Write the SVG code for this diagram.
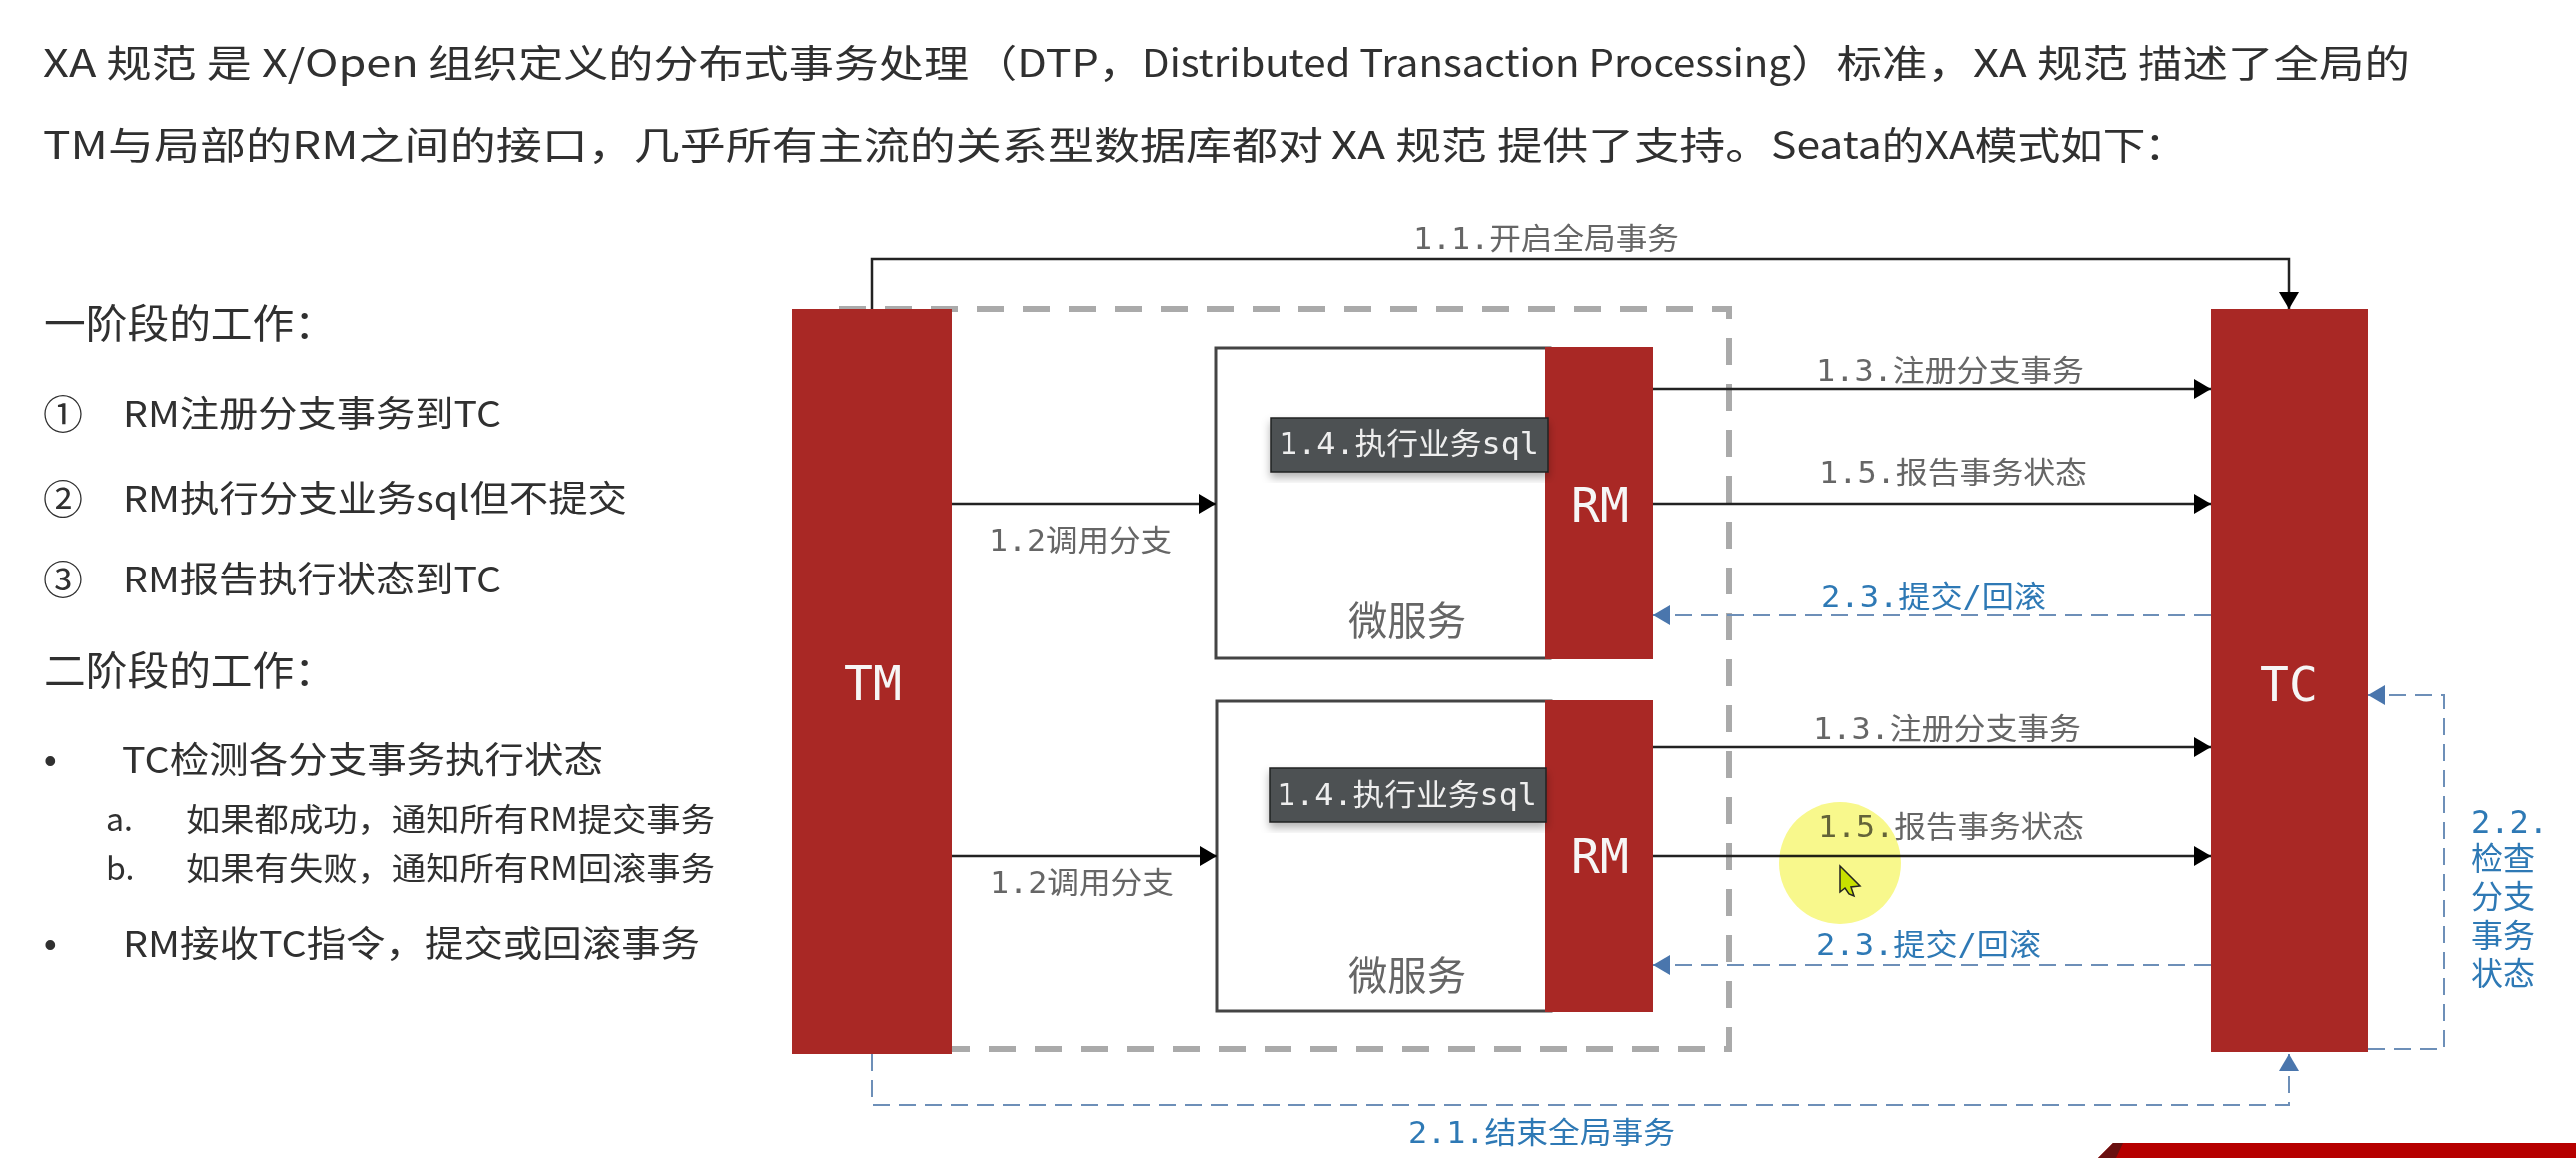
<svg xmlns="http://www.w3.org/2000/svg" width="2579" height="1159" viewBox="0 0 2579 1159">
<style>
.t{font-family:"Noto Sans CJK SC","Noto Sans",sans-serif;fill:#303030}
.m{font-family:"DejaVu Sans Mono","Noto Sans CJK SC",monospace;font-size:30px;fill:#666;dominant-baseline:central}
.b{fill:#2e79b5}
.v{font-size:32px}
.w{fill:#f6f6f6;font-size:48px}
.box{fill:#fff;stroke:#444;stroke-width:3}
.red{fill:#a92825}
.k{fill:none;stroke:#222;stroke-width:2.5}
.d{fill:none;stroke:#6d8fb8;stroke-width:2;stroke-dasharray:17 9}
.dot{font-family:"Liberation Sans",sans-serif;fill:#303030;font-size:36px}
</style>
<defs>
<marker id="ak" markerUnits="userSpaceOnUse" markerWidth="18" markerHeight="20" refX="17" refY="10" orient="auto"><path d="M0 0L17 10L0 20z" fill="#000"/></marker>
<marker id="ab" markerUnits="userSpaceOnUse" markerWidth="18" markerHeight="20" refX="17" refY="10" orient="auto"><path d="M0 0L17 10L0 20z" fill="#4a76ad"/></marker>
<filter id="sh" x="-5%" y="-10%" width="110%" height="130%"><feDropShadow dx="0" dy="5" stdDeviation="4" flood-color="#000" flood-opacity=".3"/></filter>
</defs>
<rect width="2579" height="1159" fill="#fff"/>
<g id="intro">
<text class="t" x="43" y="77" font-size="38" textLength="927" lengthAdjust="spacingAndGlyphs">XA 规范 是 X/Open 组织定义的分布式事务处理</text>
<text class="t" x="975" y="77" font-size="38" textLength="168" lengthAdjust="spacingAndGlyphs">（DTP，</text>
<text class="t" x="1143" y="77" font-size="38" textLength="650" lengthAdjust="spacingAndGlyphs">Distributed Transaction Processing</text>
<text class="t" x="1793" y="77" font-size="38" textLength="620" lengthAdjust="spacingAndGlyphs">）标准，XA 规范 描述了全局的</text>
<text class="t" x="43" y="159" font-size="38" textLength="1282" lengthAdjust="spacingAndGlyphs">TM与局部的RM之间的接口，几乎所有主流的关系型数据库都对</text>
<text class="t" x="1333" y="159" font-size="38" textLength="440" lengthAdjust="spacingAndGlyphs">XA 规范 提供了支持。</text>
<text class="t" x="1773" y="159" font-size="38" textLength="417" lengthAdjust="spacingAndGlyphs">Seata的XA模式如下：</text>
</g>
<g id="phase-list">
<text class="t" x="44" y="338" font-size="40" textLength="292" lengthAdjust="spacingAndGlyphs">一阶段的工作：</text>
<text class="t" x="43" y="429" font-size="40">①</text>
<text class="t" x="123" y="427" font-size="36" textLength="379" lengthAdjust="spacingAndGlyphs">RM注册分支事务到TC</text>
<text class="t" x="43" y="514" font-size="40">②</text>
<text class="t" x="123" y="512" font-size="36" textLength="505" lengthAdjust="spacingAndGlyphs">RM执行分支业务sql但不提交</text>
<text class="t" x="43" y="595" font-size="40">③</text>
<text class="t" x="123" y="593" font-size="36" textLength="379" lengthAdjust="spacingAndGlyphs">RM报告执行状态到TC</text>
<text class="t" x="44" y="686" font-size="40" textLength="292" lengthAdjust="spacingAndGlyphs">二阶段的工作：</text>
<text class="dot" x="44" y="774">•</text>
<text class="t" x="122" y="774" font-size="36" textLength="482" lengthAdjust="spacingAndGlyphs">TC检测各分支事务执行状态</text>
<text class="t" x="106" y="832" font-size="32">a.</text>
<text class="t" x="186" y="832" font-size="32" textLength="530" lengthAdjust="spacingAndGlyphs">如果都成功，通知所有RM提交事务</text>
<text class="t" x="106" y="881" font-size="32">b.</text>
<text class="t" x="186" y="881" font-size="32" textLength="530" lengthAdjust="spacingAndGlyphs">如果有失败，通知所有RM回滚事务</text>
<text class="dot" x="44" y="958">•</text>
<text class="t" x="123" y="958" font-size="36" textLength="578" lengthAdjust="spacingAndGlyphs">RM接收TC指令，提交或回滚事务</text>
</g>
<path id="scope" d="M840 309H1731V1050H953" fill="none" stroke="#aaa" stroke-width="6" stroke-dasharray="27 19"/>
<g id="service-1"><rect class="box" x="1217" y="348" width="335" height="311"/><text class="m" x="1409" y="622" text-anchor="middle" style="font-size:40px" textLength="118" lengthAdjust="spacingAndGlyphs">微服务</text></g>
<g id="service-2"><rect class="box" x="1218" y="702" width="335" height="310"/><text class="m" x="1409" y="977" text-anchor="middle" style="font-size:40px" textLength="118" lengthAdjust="spacingAndGlyphs">微服务</text></g>
<g id="tm"><rect class="red" x="793" y="309" width="160" height="746"/><text class="m w" x="874" y="684" text-anchor="middle">TM</text></g>
<g id="tc"><rect class="red" x="2214" y="309" width="157" height="744"/><text class="m w" x="2292" y="685" text-anchor="middle">TC</text></g>
<g id="rm-1"><rect class="red" x="1547" y="347" width="108" height="313"/><text class="m w" x="1602" y="505" text-anchor="middle">RM</text></g>
<g id="rm-2"><rect class="red" x="1547" y="701" width="108" height="312"/><text class="m w" x="1602" y="857" text-anchor="middle">RM</text></g>
<g id="sql-1"><rect x="1272" y="418" width="278" height="54" fill="#4d5153" stroke="#222" stroke-width="1.5" filter="url(#sh)"/><text class="m" x="1280" y="443" style="fill:#eee" textLength="261" lengthAdjust="spacingAndGlyphs">1.4.执行业务sql</text></g>
<g id="sql-2"><rect x="1271" y="769" width="277" height="54" fill="#4d5153" stroke="#222" stroke-width="1.5" filter="url(#sh)"/><text class="m" x="1278" y="795" style="fill:#eee" textLength="261" lengthAdjust="spacingAndGlyphs">1.4.执行业务sql</text></g>
<g id="connectors">
<path class="k" d="M873 309V259H2292V309" marker-end="url(#ak)"/>
<path class="k" d="M953 504H1217" marker-end="url(#ak)"/>
<path class="k" d="M953 857H1218" marker-end="url(#ak)"/>
<path class="k" d="M1655 389H2214" marker-end="url(#ak)"/>
<path class="k" d="M1655 504H2214" marker-end="url(#ak)"/>
<path class="k" d="M1655 748H2214" marker-end="url(#ak)"/>
<path class="k" d="M1655 857H2214" marker-end="url(#ak)"/>
<path class="d" d="M2214 616H1655" marker-end="url(#ab)"/>
<path class="d" d="M2214 966H1655" marker-end="url(#ab)"/>
<path class="d" d="M2371 1050H2447V696H2371" marker-end="url(#ab)"/>
<path class="d" d="M873 1055V1106H2292V1055" marker-end="url(#ab)"/>
</g>
<g id="labels">
<text class="m" x="1415" y="238" textLength="266" lengthAdjust="spacingAndGlyphs">1.1.开启全局事务</text>
<text class="m" x="990" y="540" textLength="183" lengthAdjust="spacingAndGlyphs">1.2调用分支</text>
<text class="m" x="991" y="883" textLength="184" lengthAdjust="spacingAndGlyphs">1.2调用分支</text>
<text class="m" x="1818" y="370" textLength="268" lengthAdjust="spacingAndGlyphs">1.3.注册分支事务</text>
<text class="m" x="1821" y="472" textLength="268" lengthAdjust="spacingAndGlyphs">1.5.报告事务状态</text>
<text class="m b" x="1823" y="597" textLength="225" lengthAdjust="spacingAndGlyphs">2.3.提交/回滚</text>
<text class="m" x="1815" y="729" textLength="268" lengthAdjust="spacingAndGlyphs">1.3.注册分支事务</text>
<text class="m" x="1820" y="827" textLength="266" lengthAdjust="spacingAndGlyphs">1.5.报告事务状态</text>
<text class="m b" x="1818" y="945" textLength="225" lengthAdjust="spacingAndGlyphs">2.3.提交/回滚</text>
<text class="m b" x="1410" y="1133" textLength="267" lengthAdjust="spacingAndGlyphs">2.1.结束全局事务</text>
<text class="m b v" x="2474" y="823">2.2.</text>
<text class="m b v" x="2474" y="860">检查</text>
<text class="m b v" x="2474" y="898">分支</text>
<text class="m b v" x="2474" y="937">事务</text>
<text class="m b v" x="2474" y="975">状态</text>
</g>
<circle id="highlight" cx="1842" cy="864" r="61" fill="#f8f88c" style="mix-blend-mode:multiply"/>
<path id="cursor" d="M1842 867L1862 887L1853 888L1856 897L1851 895L1847 889L1842 893z" fill="#c8e000" stroke="#222" stroke-width="1.5"/>
<g id="banner"><path d="M2115 1144H2579V1159H2100z" fill="#b60000"/><path d="M2115 1144H2125L2118 1159H2100z" fill="#6a1010"/></g>
</svg>
